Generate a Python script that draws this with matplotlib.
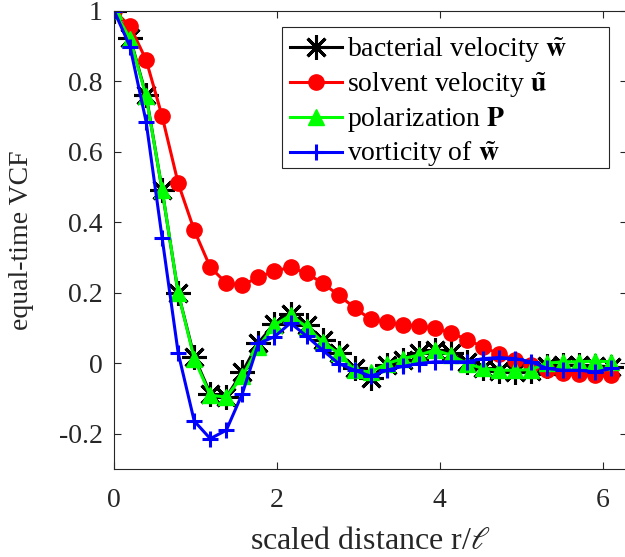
import matplotlib
matplotlib.use("Agg")
import matplotlib.pyplot as plt
from matplotlib.patches import Rectangle

plt.rcParams['font.family'] = ['Liberation Serif', 'DejaVu Serif']
plt.rcParams['mathtext.fontset'] = 'stix'

# scaled distance r/l
r = [0.000, 0.197, 0.394, 0.591, 0.788, 0.985, 1.182, 1.379, 1.576, 1.773,
     1.970, 2.167, 2.364, 2.561, 2.758, 2.955, 3.152, 3.349, 3.546, 3.743,
     3.940, 4.137, 4.334, 4.531, 4.728, 4.925, 5.122, 5.319, 5.516, 5.713,
     5.910, 6.107]

bacterial = [1.0, 0.923, 0.76, 0.491, 0.199, 0.018, -0.086, -0.096, -0.025, 0.058,
             0.111, 0.139, 0.108, 0.067, 0.028, -0.015, -0.043, -0.006, 0.009, 0.028,
             0.037, 0.028, 0.002, -0.015, -0.022, -0.025, -0.022, -0.008, -0.006, -0.006,
             -0.008, -0.01]

solvent = [1.0, 0.955, 0.86, 0.70, 0.51, 0.377, 0.272, 0.227, 0.221, 0.244,
           0.261, 0.272, 0.255, 0.227, 0.193, 0.157, 0.124, 0.116, 0.109, 0.106,
           0.099, 0.086, 0.067, 0.046, 0.026, 0.010, -0.004, -0.018, -0.028, -0.032,
           -0.034, -0.034]

polarization = [1.0, 0.92, 0.757, 0.491, 0.199, 0.013, -0.091, -0.096, -0.037, 0.046,
                0.108, 0.136, 0.103, 0.06, 0.028, -0.02, -0.025, -0.001, 0.013, 0.023,
                0.037, 0.023, -0.001, -0.015, -0.02, -0.02, -0.018, 0.0, 0.004, 0.004,
                0.006, 0.004]

vorticity = [1.0, 0.897, 0.685, 0.355, 0.029, -0.164, -0.214, -0.19, -0.086, 0.056,
             0.075, 0.114, 0.077, 0.037, -0.001, -0.02, -0.037, -0.02, -0.009, -0.001,
             0.004, 0.004, 0.004, 0.013, 0.016, 0.013, 0.004, -0.015, -0.02, -0.02,
             -0.025, -0.015]

labels = [r'bacterial velocity $\tilde{\mathbf{w}}$',
          r'solvent velocity $\tilde{\mathbf{u}}$',
          r'polarization $\mathbf{P}$',
          r'vorticity of $\tilde{\mathbf{w}}$']

xticks = [0, 2, 4, 6]
yticks = [-0.2, 0, 0.2, 0.4, 0.6, 0.8, 1]
yticklabels = ['-0.2', '0', '0.2', '0.4', '0.6', '0.8', '1']

W, H = 625, 557
fig = plt.figure(figsize=(W / 100, H / 100), dpi=100)
left = 114 / W
bottom = (H - 469) / H
height = (469 - 10.5) / H
xmax = 6.3
width = xmax * 81.45 / W
ax = fig.add_axes([left, bottom, width, height])

asterisk = (8, 2, 0)
ax.plot(r, bacterial, color='black', lw=2.2, marker=asterisk, ms=18, mew=2.2,
        label=labels[0])
ax.plot(r, solvent, color='#ff0000', lw=2.2, marker='o', ms=11, mew=1,
        label=labels[1])
ax.plot(r, polarization, color='#00ff00', lw=2.2, marker='^', ms=12, mew=1,
        label=labels[2])
ax.plot(r, vorticity, color='#0000ff', lw=2.2, marker='+', ms=11, mew=2.2,
        label=labels[3])

ax.set_xlim(0, xmax)
ax.set_ylim(-0.3, 1.0)
ax.set_xticks(xticks)
ax.set_xticklabels([str(t) for t in xticks])
ax.set_yticks(yticks)
ax.set_yticklabels(yticklabels)

axcol = '#262626'
for s in ax.spines.values():
    s.set_color(axcol)
    s.set_linewidth(0.8)
ax.tick_params(direction='in', top=True, right=True, length=5, width=0.8,
               colors=axcol, labelsize=20)
ax.tick_params(axis='y', pad=8)
ax.tick_params(axis='x', pad=14)
for lab in ax.get_xticklabels() + ax.get_yticklabels():
    lab.set_color(axcol)

ax.set_xlabel(r'scaled distance r/$\ell$', fontsize=23, color=axcol, labelpad=10)
ax.set_ylabel('equal-time VCF', fontsize=20, color=axcol, labelpad=18)

# legend (frame drawn separately to match the wide MATLAB-style box)
leg_x0, leg_y0, leg_x1, leg_y1 = 282, 27, 609, 168
leg = ax.legend(loc='upper left',
                bbox_to_anchor=(leg_x0 / W, 1 - leg_y0 / H),
                bbox_transform=fig.transFigure,
                fontsize=20, frameon=False,
                handlelength=1.85, handletextpad=0.2, borderpad=0.3,
                labelspacing=0.2, borderaxespad=0)
frame = Rectangle((leg_x0 / W, 1 - leg_y1 / H), (leg_x1 - leg_x0) / W,
                  (leg_y1 - leg_y0) / H, transform=fig.transFigure,
                  facecolor='white', edgecolor=axcol, lw=0.8, zorder=4.9)
ax.add_artist(frame)
frame.set_clip_on(False)
leg.set_zorder(5)

fig.savefig('out.png', dpi=100)
